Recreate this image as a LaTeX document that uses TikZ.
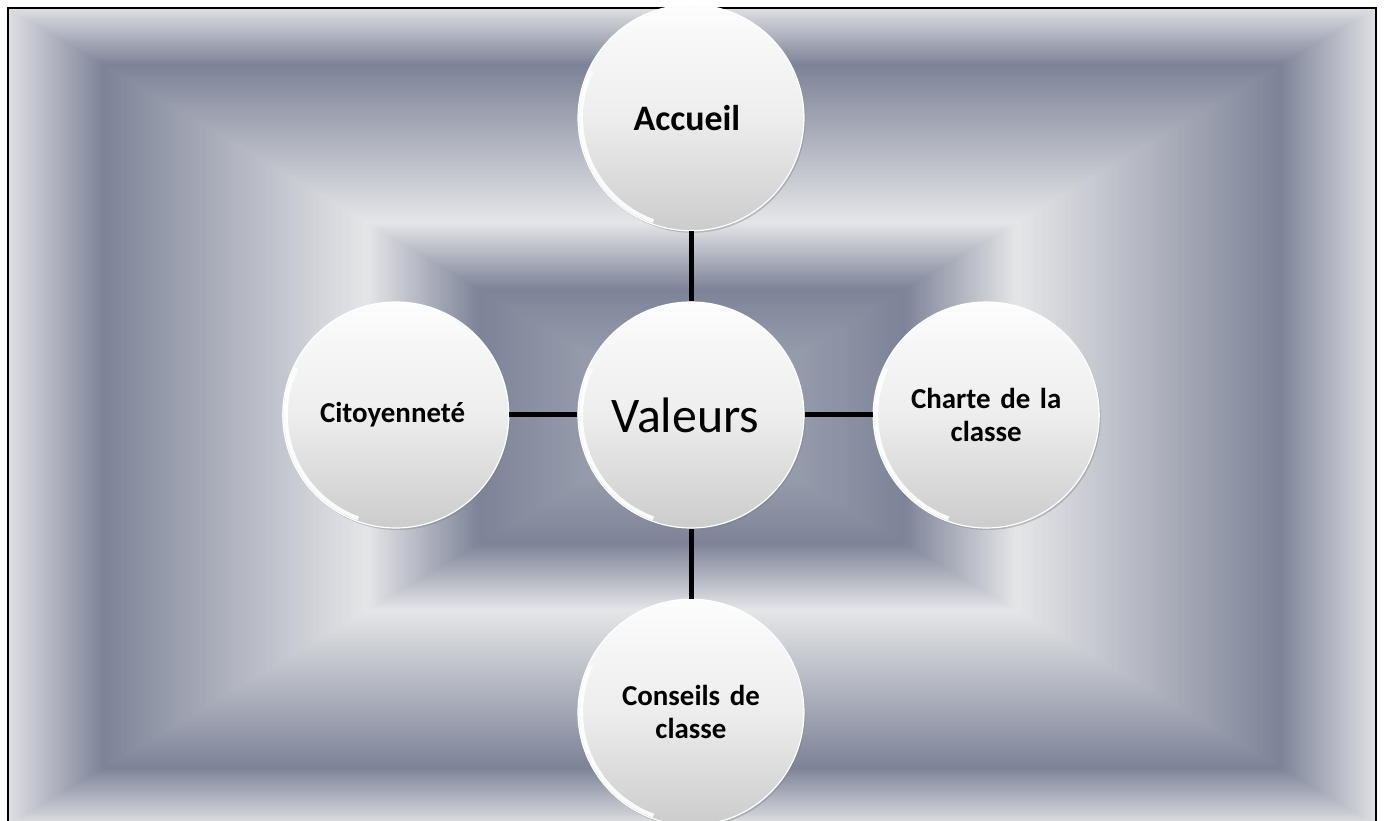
\documentclass[tikz,border=0pt]{standalone}
\usepackage{fontspec}
\setmainfont{Carlito}
\usetikzlibrary{matrix,shadows}

\definecolor{bgedge}{HTML}{DEDFE2}
\definecolor{bgdark}{HTML}{7E8498}
\definecolor{bglight}{HTML}{E4E5E7}
\definecolor{bgmid}{HTML}{AEB2BE}

\tikzset{
  bubble/.style={circle, minimum size=226bp, inner sep=0pt, align=center, anchor=center,
    top color=white!99!black, bottom color=white!80!black, middle color=white!93!black,
    draw=white, line width=1.2bp,
    drop shadow={opacity=0.4, shadow xshift=1.5bp, shadow yshift=-2bp},
    path picture={\draw[white, line width=4bp, opacity=0.9]
      ([shift={(155:110bp)}]path picture bounding box.center) arc (155:250:110bp);},
    font=\bfseries\fontsize{29}{33}\selectfont},
  hub/.style={font=\fontsize{50}{54}\selectfont},
  head/.style={font=\bfseries\fontsize{36}{40}\selectfont},
  wrap/.style={text width=175bp},
  link/.style={line width=5bp, black}
}

\begin{document}
\begin{tikzpicture}[x=1bp,y=1bp]
  \useasboundingbox (0,0) rectangle (1384,820);
  \clip (0,0) rectangle (1384,820);
  % rectangular gradient, drawn as nested bands
  \foreach \dA/\dB/\cA/\cB in {1/0.86/bgedge/bgdark, 0.86/0.475/bgdark/bglight,
      0.475/0.31/bglight/bgdark, 0.31/0/bgdark/bgmid}
    \foreach \k in {0,...,59}{
      \pgfmathsetmacro\d{\dA-(\dA-\dB)*\k/60}
      \pgfmathsetmacro\p{100*\k/59}
      \fill[fill=\cB!\p!\cA] (692-684*\d,403.5-408.5*\d) rectangle (692+684*\d,403.5+408.5*\d);
    }
  \draw[line width=2.5bp] (8,-5) rectangle (1376,812);

  \matrix (m) [matrix of nodes, row sep=70bp, column sep=68bp, nodes={bubble}] at (691,405)
  {
 & |[head]| Accueil & \\
Citoyenneté & |[hub]| Valeurs & |[wrap]| Charte~de~la classe \\
 & |[wrap]| Conseils~de classe & \\ };
  \path[link]
  (m-1-2) edge (m-2-2)
  (m-2-1) edge (m-2-2)
  (m-2-2) edge (m-2-3)
  (m-2-2) edge (m-3-2)
;
\end{tikzpicture}
\end{document}
